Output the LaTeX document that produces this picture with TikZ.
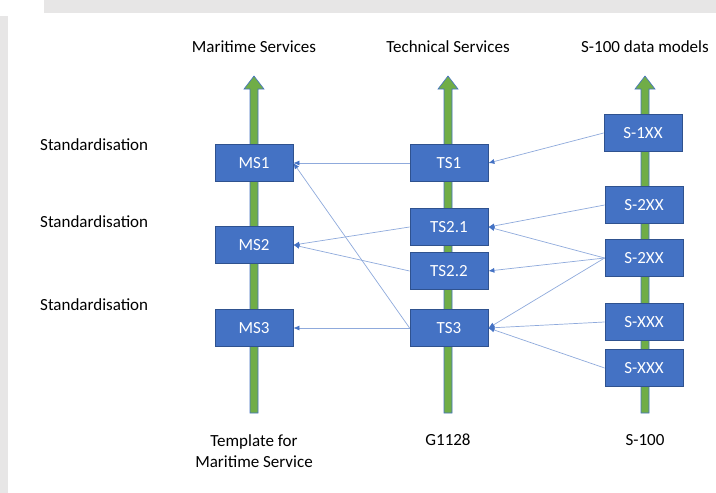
\documentclass[tikz,border=0pt]{standalone}
\usepackage{fontspec}
\setmainfont{Carlito}
\usetikzlibrary{arrows.meta}
\definecolor{boxblue}{HTML}{4472C4}
\definecolor{boxedge}{HTML}{2F528F}
\definecolor{linkblue}{HTML}{8FAADC}
\definecolor{arrgreen}{HTML}{70AD47}
\definecolor{bargray}{HTML}{E7E6E6}
\tikzset{
  svc/.style={draw=boxedge, line width=0.8pt, fill=boxblue, text=white, minimum width=78pt, minimum height=37pt, inner sep=0pt, font=\fontsize{17}{20}\selectfont},
  lbl/.style={text=black, inner sep=0pt, font=\fontsize{17}{21}\selectfont},
  link/.style={draw=linkblue, line width=0.7pt, -{Latex[length=6pt,width=5pt,fill=boxblue,color=boxblue]}},
  greenarrow/.style={fill=arrgreen, draw=boxblue, line width=0.6pt}
}
\newcommand{\vArrow}[1]{%
  \draw[greenarrow] (#1-4,413) -- (#1-4,89) -- (#1-10,89) -- (#1,76) -- (#1+10,89) -- (#1+4,89) -- (#1+4,413) -- cycle;}
\begin{document}
\begin{tikzpicture}[x=1pt,y=-1pt]
\useasboundingbox (0,0) rectangle (716,493);
\fill[white] (0,0) rectangle (716,493);
\fill[bargray] (44,0) rectangle (716,13);
\fill[bargray] (0,16) rectangle (8,493);
% headers
\node[lbl] (h1) at (254,47) {Maritime Services};
\node[lbl] (h2) at (448,47) {Technical Services};
\node[lbl] (h3) at (645,47) {S-100 data models};
% standardisation
\node[lbl, anchor=west] (st1) at (40,145) {Standardisation};
\node[lbl, anchor=west] (st2) at (40,222) {Standardisation};
\node[lbl, anchor=west] (st3) at (40,305) {Standardisation};
% green arrows
\vArrow{254}
\vArrow{448}
\vArrow{645}
% boxes
\node[svc] (ms1) at (254,163) {MS1};
\node[svc] (ms2) at (254,245) {MS2};
\node[svc] (ms3) at (254,328) {MS3};
\node[svc] (ts1) at (449,163) {TS1};
\node[svc] (ts21) at (449,227) {TS2.1};
\node[svc] (ts22) at (449,271) {TS2.2};
\node[svc] (ts3) at (449,328) {TS3};
\node[svc] (s1) at (643,133) {S-1XX};
\node[svc] (s2a) at (644,205) {S-2XX};
\node[svc] (s2b) at (644,258) {S-2XX};
\node[svc] (sxa) at (644,322) {S-XXX};
\node[svc] (sxb) at (644,368) {S-XXX};
% links
\draw[link] (ts1.west) -- (ms1.east);
\draw[link] (ts3.west) -- (ms1.east);
\draw[link] (ts21.west) -- (ms2.east);
\draw[link] (ts22.west) -- (ms2.east);
\draw[link] (ts3.west) -- (ms3.east);
\draw[link] (s1.west) -- (ts1.east);
\draw[link] (s2a.west) -- (ts21.east);
\draw[link] (s2b.west) -- (ts21.east);
\draw[link] (s2b.west) -- (ts22.east);
\draw[link] (s2b.west) -- (ts3.east);
\draw[link] (sxa.west) -- (ts3.east);
\draw[link] (sxb.west) -- (ts3.east);
% bottom labels
\node[lbl, align=center] (b1) at (254,451) {Template for\\Maritime Service};
\node[lbl] (b2) at (448,440) {G1128};
\node[lbl] (b3) at (645,440) {S-100};
\end{tikzpicture}
\end{document}
